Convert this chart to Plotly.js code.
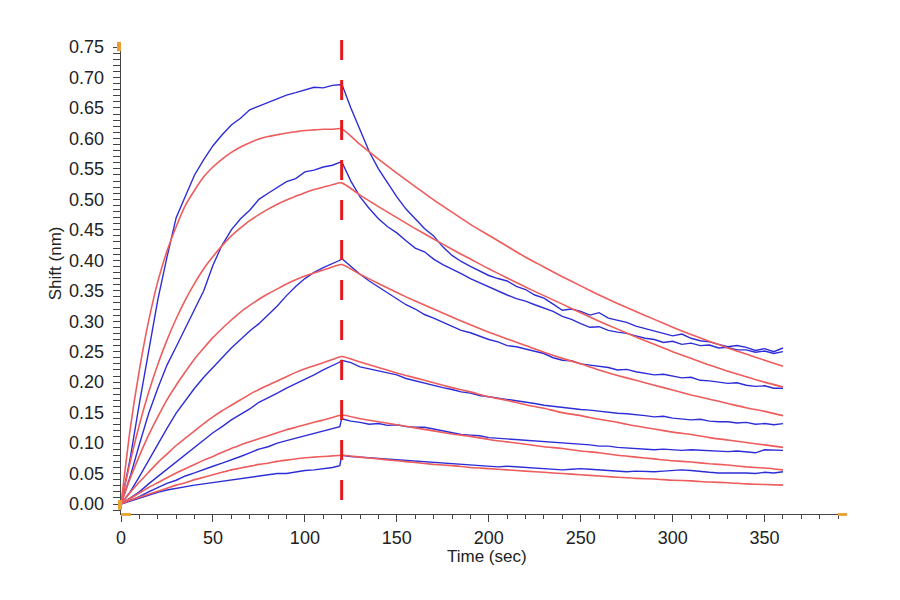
<!DOCTYPE html>
<html>
<head>
<meta charset="utf-8">
<script src="https://cdn.plot.ly/plotly-3.0.1.min.js"></script>
<style>
  html, body { margin: 0; padding: 0; background: #fff; }
  #chart { width: 900px; height: 600px; }
</style>
</head>
<body>
<div id="chart"></div>
<script>
// measured sensorgrams (blue), sampled every 5 s
const assocT = [0, 5, 10, 15, 20, 25, 30, 35, 40, 45, 50, 55, 60, 65, 70, 75, 80, 85, 90, 95, 100, 105, 110, 115, 119];
const dissT = [120, 125, 130, 135, 140, 145, 150, 155, 160, 165,
  170, 175, 180, 185, 190, 195, 200, 205, 210, 215,
  220, 225, 230, 235, 240, 245, 250, 255, 260, 265,
  270, 275, 280, 285, 290, 295, 300, 305, 310, 315,
  320, 325, 330, 335, 340, 345, 350, 355, 360];

const b1Assoc = [0, 0.075, 0.165, 0.250, 0.335, 0.405, 0.470, 0.505, 0.540, 0.565, 0.588, 0.606, 0.622, 0.633, 0.647, 0.653, 0.659, 0.665, 0.671, 0.675, 0.679, 0.684, 0.683, 0.687, 0.688];
const b2Assoc = [0, 0.045, 0.098, 0.148, 0.190, 0.228, 0.258, 0.288, 0.318, 0.350, 0.392, 0.425, 0.450, 0.468, 0.482, 0.500, 0.510, 0.520, 0.529, 0.534, 0.545, 0.548, 0.553, 0.556, 0.560];
const b3Assoc = [0, 0.020, 0.045, 0.072, 0.097, 0.124, 0.149, 0.170, 0.190, 0.208, 0.224, 0.240, 0.256, 0.270, 0.284, 0.296, 0.310, 0.325, 0.342, 0.357, 0.370, 0.380, 0.388, 0.394, 0.400];
const b4Assoc = [0, 0.010, 0.020, 0.033, 0.045, 0.058, 0.070, 0.082, 0.094, 0.106, 0.117, 0.127, 0.138, 0.147, 0.156, 0.167, 0.174, 0.182, 0.190, 0.197, 0.205, 0.212, 0.220, 0.227, 0.233];
const b5Assoc = [0, 0.006, 0.012, 0.020, 0.027, 0.034, 0.039, 0.046, 0.051, 0.057, 0.062, 0.067, 0.072, 0.078, 0.084, 0.090, 0.094, 0.100, 0.104, 0.108, 0.113, 0.117, 0.121, 0.124, 0.127];
const b6Assoc = [0, 0.005, 0.010, 0.015, 0.019, 0.023, 0.026, 0.028, 0.031, 0.033, 0.035, 0.037, 0.040, 0.042, 0.044, 0.046, 0.048, 0.050, 0.050, 0.053, 0.055, 0.056, 0.058, 0.060, 0.063];

const b1Diss = [0.690, 0.650, 0.615, 0.578, 0.550, 0.526, 0.504, 0.484, 0.468, 0.452,
  0.440, 0.422, 0.408, 0.398, 0.390, 0.383, 0.375, 0.370, 0.366, 0.357,
  0.352, 0.343, 0.338, 0.328, 0.318, 0.320, 0.316, 0.310, 0.314, 0.305,
  0.302, 0.298, 0.292, 0.288, 0.283, 0.280, 0.276, 0.279, 0.272, 0.268,
  0.266, 0.262, 0.258, 0.260, 0.257, 0.252, 0.255, 0.250, 0.256];
const b2Diss = [0.562, 0.530, 0.504, 0.485, 0.468, 0.455, 0.445, 0.432, 0.420, 0.414,
  0.402, 0.393, 0.386, 0.378, 0.370, 0.363, 0.357, 0.350, 0.343, 0.337,
  0.333, 0.327, 0.322, 0.316, 0.308, 0.303, 0.296, 0.290, 0.291, 0.285,
  0.282, 0.280, 0.276, 0.272, 0.270, 0.265, 0.267, 0.262, 0.264, 0.260,
  0.261, 0.256, 0.257, 0.253, 0.253, 0.249, 0.251, 0.247, 0.250];
const b3Diss = [0.403, 0.390, 0.377, 0.366, 0.356, 0.346, 0.336, 0.327, 0.320, 0.311,
  0.305, 0.298, 0.292, 0.285, 0.281, 0.275, 0.270, 0.266, 0.260, 0.258,
  0.254, 0.250, 0.247, 0.240, 0.236, 0.235, 0.230, 0.228, 0.226, 0.224,
  0.220, 0.221, 0.217, 0.215, 0.212, 0.213, 0.210, 0.207, 0.208, 0.203,
  0.202, 0.200, 0.198, 0.199, 0.195, 0.193, 0.194, 0.190, 0.190];
const b4Diss = [0.236, 0.232, 0.225, 0.222, 0.219, 0.215, 0.212, 0.206, 0.202, 0.198,
  0.195, 0.191, 0.188, 0.184, 0.182, 0.178, 0.176, 0.174, 0.171, 0.169,
  0.167, 0.165, 0.162, 0.160, 0.158, 0.157, 0.155, 0.154, 0.152, 0.151,
  0.149, 0.148, 0.147, 0.145, 0.143, 0.144, 0.141, 0.139, 0.138, 0.139,
  0.136, 0.135, 0.135, 0.133, 0.134, 0.131, 0.132, 0.130, 0.132];
const b5Diss = [0.140, 0.136, 0.134, 0.131, 0.132, 0.129, 0.130, 0.127, 0.126, 0.126,
  0.123, 0.120, 0.117, 0.114, 0.113, 0.112, 0.109, 0.108, 0.107, 0.106,
  0.105, 0.104, 0.103, 0.101, 0.100, 0.099, 0.098, 0.097, 0.095, 0.095,
  0.093, 0.092, 0.091, 0.090, 0.089, 0.090, 0.089, 0.088, 0.089, 0.088,
  0.087, 0.086, 0.086, 0.087, 0.085, 0.084, 0.089, 0.088, 0.088];
const b6Diss = [0.080, 0.078, 0.077, 0.076, 0.075, 0.073, 0.072, 0.071, 0.070, 0.069,
  0.069, 0.068, 0.067, 0.066, 0.065, 0.064, 0.062, 0.061, 0.062, 0.061,
  0.060, 0.059, 0.058, 0.057, 0.056, 0.057, 0.058, 0.057, 0.056, 0.055,
  0.054, 0.053, 0.054, 0.053, 0.053, 0.054, 0.055, 0.056, 0.055, 0.053,
  0.052, 0.051, 0.051, 0.052, 0.051, 0.050, 0.052, 0.051, 0.053];

// fitted curves (red)
const fitAssocT = [0, 5, 10, 15, 20, 25, 30, 35, 40, 45, 50, 55, 60, 65, 70, 75, 80, 85, 90, 95, 100, 105, 110, 115, 120];
const fitDissT = [130, 140, 150, 160, 170, 180, 190, 200, 210, 220, 230, 240, 250, 260, 270, 280, 290, 300, 310, 320, 330, 340, 350, 360];

const r1Assoc = [0, 0.123, 0.220, 0.300, 0.365, 0.415, 0.455, 0.490, 0.515, 0.537, 0.553, 0.566, 0.577, 0.586, 0.593, 0.599, 0.603, 0.606, 0.609, 0.611, 0.613, 0.614, 0.615, 0.615, 0.616];
const r2Assoc = [0, 0.069, 0.130, 0.183, 0.229, 0.269, 0.304, 0.335, 0.362, 0.386, 0.406, 0.424, 0.440, 0.453, 0.465, 0.475, 0.484, 0.492, 0.499, 0.505, 0.511, 0.516, 0.520, 0.524, 0.527];
const r3Assoc = [0, 0.042, 0.079, 0.113, 0.143, 0.171, 0.195, 0.217, 0.238, 0.256, 0.273, 0.288, 0.302, 0.315, 0.326, 0.336, 0.345, 0.353, 0.361, 0.368, 0.374, 0.379, 0.384, 0.389, 0.393];
const r4Assoc = [0, 0.019, 0.036, 0.052, 0.068, 0.082, 0.096, 0.108, 0.120, 0.132, 0.143, 0.153, 0.162, 0.171, 0.180, 0.188, 0.195, 0.202, 0.209, 0.216, 0.222, 0.227, 0.232, 0.237, 0.242];
const r5Assoc = [0, 0.009, 0.018, 0.027, 0.035, 0.043, 0.051, 0.058, 0.065, 0.072, 0.078, 0.085, 0.091, 0.097, 0.102, 0.107, 0.112, 0.117, 0.122, 0.126, 0.130, 0.134, 0.138, 0.142, 0.146];
const r6Assoc = [0, 0.006, 0.011, 0.016, 0.021, 0.026, 0.031, 0.035, 0.040, 0.044, 0.048, 0.052, 0.056, 0.059, 0.062, 0.065, 0.067, 0.070, 0.072, 0.074, 0.076, 0.077, 0.078, 0.079, 0.080];

const r1Diss = [0.590, 0.566, 0.543, 0.521, 0.499, 0.479, 0.459, 0.441, 0.423, 0.405, 0.389, 0.373, 0.358, 0.343, 0.329, 0.316, 0.303, 0.290, 0.278, 0.267, 0.256, 0.246, 0.236, 0.226];
const r2Diss = [0.507, 0.488, 0.470, 0.452, 0.435, 0.418, 0.402, 0.386, 0.371, 0.356, 0.342, 0.328, 0.314, 0.300, 0.287, 0.274, 0.262, 0.250, 0.239, 0.228, 0.218, 0.209, 0.200, 0.192];
const r3Diss = [0.377, 0.362, 0.347, 0.333, 0.320, 0.307, 0.294, 0.282, 0.271, 0.260, 0.249, 0.239, 0.230, 0.220, 0.211, 0.203, 0.195, 0.187, 0.179, 0.172, 0.165, 0.158, 0.152, 0.145];
const r4Diss = [0.233, 0.224, 0.215, 0.207, 0.199, 0.191, 0.184, 0.176, 0.170, 0.163, 0.157, 0.150, 0.145, 0.139, 0.134, 0.128, 0.123, 0.118, 0.114, 0.109, 0.105, 0.101, 0.097, 0.093];
const r5Diss = [0.140, 0.135, 0.130, 0.125, 0.120, 0.115, 0.111, 0.106, 0.102, 0.098, 0.094, 0.091, 0.087, 0.084, 0.080, 0.077, 0.074, 0.071, 0.069, 0.066, 0.064, 0.061, 0.059, 0.056];
const r6Diss = [0.077, 0.074, 0.071, 0.068, 0.065, 0.063, 0.060, 0.058, 0.056, 0.054, 0.052, 0.050, 0.048, 0.046, 0.044, 0.042, 0.041, 0.039, 0.038, 0.036, 0.035, 0.033, 0.032, 0.031];

const switchTime = 120;

const measured = [
  [b1Assoc, b1Diss], [b2Assoc, b2Diss], [b3Assoc, b3Diss],
  [b4Assoc, b4Diss], [b5Assoc, b5Diss], [b6Assoc, b6Diss]
];
const fitted = [
  [r1Assoc, r1Diss], [r2Assoc, r2Diss], [r3Assoc, r3Diss],
  [r4Assoc, r4Diss], [r5Assoc, r5Diss], [r6Assoc, r6Diss]
];

let data = [];
for (let i in measured) {
  data.push({
    x: assocT.concat(dissT),
    y: measured[i][0].concat(measured[i][1]),
    type: "scatter",
    mode: "lines",
    line: { color: "rgb(45,45,215)", width: 1.4 },
    hoverinfo: "skip"
  });
}
for (let i in fitted) {
  data.push({
    x: fitAssocT.concat(fitDissT),
    y: fitted[i][0].concat(fitted[i][1]),
    type: "scatter",
    mode: "lines",
    line: { color: "rgb(238,92,92)", width: 1.6, shape: "spline", smoothing: 0.6 },
    hoverinfo: "skip"
  });
}

const tickFont = { family: "Liberation Sans, Arial, sans-serif", size: 18, color: "#222" };
const titleFont = { family: "Liberation Sans, Arial, sans-serif", size: 17, color: "#222" };
const handle = "#e8a030";

let layout = {
  width: 900,
  height: 600,
  margin: { l: 121, r: 60, t: 47, b: 86 },
  paper_bgcolor: "#fff",
  plot_bgcolor: "#fff",
  showlegend: false,
  font: tickFont,
  xaxis: {
    range: [0, 391],
    dtick: 50,
    tick0: 0,
    ticks: "outside",
    ticklen: 7,
    tickcolor: "#444",
    showline: true,
    linecolor: "#444",
    linewidth: 1.3,
    showgrid: false,
    zeroline: false,
    tickfont: tickFont,
    minor: { dtick: 10, ticks: "outside", ticklen: 4, tickcolor: "#444", showgrid: false }
  },
  yaxis: {
    range: [-0.0164, 0.75],
    dtick: 0.05,
    tick0: 0,
    tickformat: ".2f",
    ticks: "outside",
    ticklen: 7,
    tickcolor: "#444",
    ticklabelstandoff: 5,
    showline: true,
    linecolor: "#444",
    linewidth: 1.3,
    showgrid: false,
    zeroline: false,
    tickfont: tickFont,
    minor: { dtick: 0.01, ticks: "outside", ticklen: 7, tickcolor: "#444", showgrid: false }
  },
  shapes: [
    {
      type: "line", layer: "above", xref: "x", yref: "paper",
      x0: switchTime, x1: switchTime, y0: 0.03, y1: 1.015,
      line: { color: "#e41a1c", width: 3, dash: "20px,20px" }
    },
    { type: "rect", xref: "paper", yref: "paper", x0: -0.0056, x1: 0, y0: 0.991, y1: 1.011, fillcolor: handle, line: { width: 0 } },
    { type: "rect", xref: "paper", yref: "paper", x0: -0.0042, x1: 0.0014, y0: 0.009, y1: 0.030, fillcolor: handle, line: { width: 0 } },
    { type: "rect", xref: "paper", yref: "paper", x0: 0, x1: 0.014, y0: -0.004, y1: 0.002, fillcolor: handle, line: { width: 0 } },
    { type: "rect", xref: "paper", yref: "paper", x0: 0.997, x1: 1.0097, y0: -0.004, y1: 0.002, fillcolor: handle, line: { width: 0 } }
  ],
  annotations: [
    {
      text: "Time (sec)", xref: "paper", yref: "paper", x: 0.509, y: -0.092,
      showarrow: false, xanchor: "center", yanchor: "middle", font: titleFont
    },
    {
      text: "Shift (nm)", xref: "paper", yref: "paper", x: -0.0918, y: 0.537,
      showarrow: false, xanchor: "center", yanchor: "middle", textangle: -90, font: titleFont
    }
  ]
};

Plotly.newPlot("chart", data, layout, { displayModeBar: false, staticPlot: true });
</script>
</body>
</html>
